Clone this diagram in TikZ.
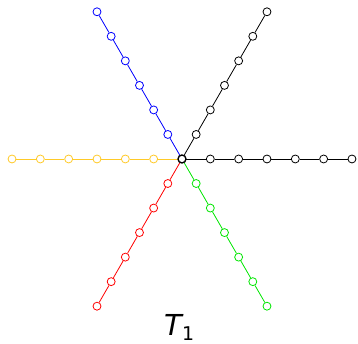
\documentclass[tikz,border=0pt]{standalone}
\usepackage{fontspec}
\newfontfamily\labelfont{DejaVu Sans}
\definecolor{goldline}{RGB}{255,202,40}
\definecolor{greenline}{RGB}{0,230,0}

\begin{document}
\begin{tikzpicture}[x=1cm, y=1cm,
    vert/.style={circle,draw,fill=white,line width=0.8pt,inner sep=0pt,minimum size=8pt}]
  \useasboundingbox (-6.424,-6.530) rectangle (6.213,5.612);
  % the six legs of the star
  \foreach \ang/\col/\nm in {0/black/ra,60/black/rb,120/blue/rc,180/goldline/rd,240/red/re,300/greenline/rf}{
      \foreach \k in {1,...,6}{ \node[vert,draw=\col] (\nm\k) at (\ang:\k) {}; }
      \draw[\col,line width=0.8pt] (0,0) coordinate (o) -- (\nm1);
      \foreach \k [evaluate=\k as \j using int(\k+1)] in {1,...,5}{
          \draw[\col,line width=0.8pt] (\nm\k) -- (\nm\j); }
  }
  \node[vert,line width=1.4pt] (hub) at (0,0) {};
  \node[anchor=base] (title) at (-0.1,-6.24)
      {\labelfont\fontsize{29}{30}\selectfont\itshape T\kern0.5pt\raisebox{-5pt}{\fontsize{19}{20}\selectfont\upshape 1}};
\end{tikzpicture}
\end{document}
